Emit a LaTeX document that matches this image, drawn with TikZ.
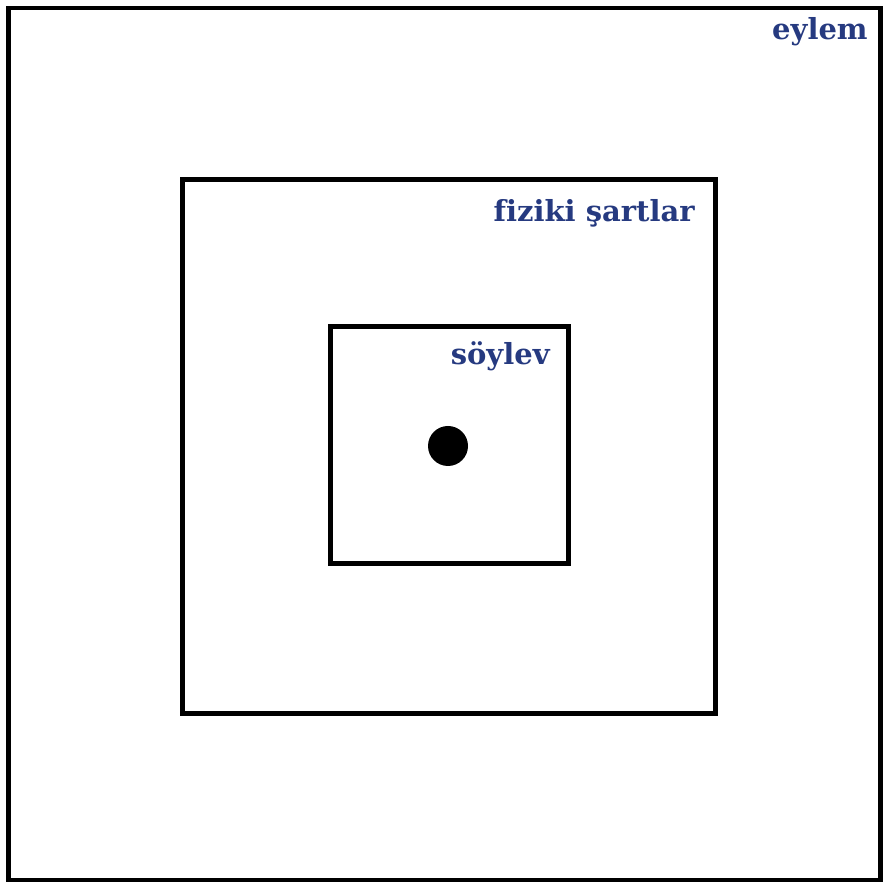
\documentclass[tikz,border=0pt]{standalone}
\usepackage{fontspec}
\newfontfamily\etiketfont{DejaVu Serif}[Ligatures=NoCommon]
\definecolor{etiketmavi}{RGB}{38,58,128}
\usetikzlibrary{positioning}

\begin{document}
\begin{tikzpicture}
  \useasboundingbox (0,0) rectangle (17.7,17.68);
  \tikzset{
    kutu/.style={draw=black, line width=2.6pt, minimum width=#1, minimum height=#1, inner sep=0pt},
    etiket/.style={anchor=base east, text=etiketmavi, font=\etiketfont\bfseries\fontsize{16.5}{19}\selectfont, inner sep=0pt}
  }
  %% Nested frames
  \node[kutu=17.44cm] (eylemkutu) at (8.89,8.80) {};
  \node[kutu=10.67cm] (fizikikutu) at (8.98,8.75) {};
  \node[kutu=4.75cm]  (soylevkutu) at (8.99,8.78) {};

  %% Centre point
  \node[circle, fill=black, minimum size=0.8cm, inner sep=0pt] (merkez) at (8.96,8.76) {};

  %% Labels
  \node[etiket] (eylem)  at (17.36,16.88) {eylem};
  \node[etiket] (fiziki) at (13.90,13.24) {fiziki şartlar};
  \node[etiket] (soylev) at (11.00,10.38) {söylev};
\end{tikzpicture}
\end{document}
